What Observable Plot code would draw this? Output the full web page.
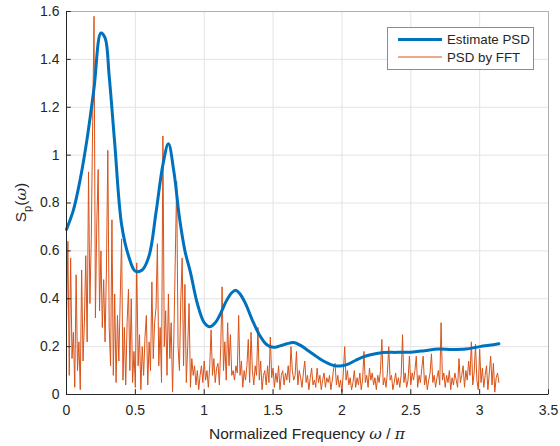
<!DOCTYPE html>
<html><head><meta charset="utf-8">
<script src="https://cdn.jsdelivr.net/npm/d3@7"></script>
<script src="https://cdn.jsdelivr.net/npm/@observablehq/plot@0.6"></script>
<style>body{margin:0;background:#fff}</style>
</head><body><div id="chart"></div>
<script>
const seriesNames = ["Estimate PSD", "PSD by FFT"];
const seriesColors = ["#0072BD", "#D95319"];
const xTicks = [0, 0.5, 1, 1.5, 2, 2.5, 3, 3.5];
const yTicks = [0, 0.2, 0.4, 0.6, 0.8, 1, 1.2, 1.4, 1.6];
const xTitle = "Normalized Frequency ";

const estX = [0,0.05,0.1,0.15,0.2,0.25,0.28,0.31,0.35,0.4,0.45,0.5,0.55,0.6,0.65,0.7,0.74,0.78,0.82,0.86,0.9,0.95,1.0,1.04,1.08,1.12,1.16,1.2,1.23,1.26,1.3,1.35,1.4,1.45,1.5,1.55,1.6,1.65,1.7,1.75,1.8,1.85,1.9,1.95,2.0,2.05,2.1,2.15,2.2,2.3,2.4,2.5,2.6,2.7,2.8,2.9,3.0,3.1,3.14];
const estY = [0.69,0.77,0.90,1.07,1.28,1.51,1.49,1.33,1.05,0.71,0.58,0.515,0.52,0.58,0.76,0.96,1.047,0.93,0.74,0.60,0.51,0.38,0.30,0.283,0.30,0.34,0.39,0.425,0.435,0.42,0.38,0.31,0.25,0.21,0.197,0.203,0.212,0.217,0.205,0.185,0.165,0.145,0.13,0.12,0.12,0.128,0.143,0.156,0.165,0.175,0.176,0.177,0.183,0.19,0.188,0.19,0.2,0.208,0.212];

const fftStep = 0.01;
const fftY = [
0.28,0.64,0.08,0.57,0.15,0.26,0.03,0.50,0.10,0.22,
0.02,0.52,0.14,0.30,0.58,0.22,0.93,0.38,0.65,1.14,
1.58,0.32,0.72,0.94,0.35,0.60,0.28,0.48,0.22,0.52,
1.02,0.28,0.12,0.73,0.08,0.42,0.05,0.33,0.14,0.40,
0.65,0.06,0.28,0.04,0.30,0.44,0.10,0.40,0.05,0.18,
0.03,0.55,0.12,0.25,0.02,0.20,0.08,0.24,0.33,0.04,
0.22,0.10,0.47,0.15,0.30,0.36,0.63,0.12,0.28,0.05,
1.08,0.20,0.35,0.08,0.42,0.15,0.30,0.01,0.25,0.57,
0.89,0.20,0.10,0.40,0.57,0.12,0.46,0.05,0.20,0.38,
0.03,0.15,0.08,0.12,0.04,0.10,0.02,0.08,0.12,0.05,
0.14,0.06,0.10,0.03,0.12,0.27,0.08,0.15,0.05,0.11,
0.13,0.04,0.20,0.45,0.10,0.22,0.06,0.30,0.12,0.25,
0.08,0.10,0.06,0.12,0.09,0.33,0.08,0.14,0.03,0.10,
0.06,0.12,0.23,0.05,0.26,0.10,0.04,0.12,0.08,0.28,
0.06,0.14,0.02,0.08,0.10,0.04,0.12,0.05,0.24,0.07,
0.11,0.03,0.09,0.05,0.12,0.02,0.08,0.10,0.04,0.09,
0.06,0.12,0.05,0.20,0.10,0.06,0.08,0.18,0.04,0.10,
0.07,0.03,0.09,0.14,0.05,0.08,0.02,0.07,0.11,0.04,
0.06,0.03,0.11,0.05,0.08,0.02,0.06,0.09,0.03,0.07,
0.05,0.08,0.02,0.06,0.11,0.13,0.04,0.08,0.03,0.06,
0.01,0.09,0.20,0.06,0.10,0.04,0.07,0.02,0.05,0.10,
0.03,0.07,0.04,0.09,0.02,0.06,0.18,0.05,0.08,0.03,
0.11,0.06,0.09,0.04,0.07,0.02,0.08,0.05,0.10,0.23,
0.04,0.07,0.03,0.09,0.20,0.06,0.08,0.02,0.05,0.09,
0.04,0.07,0.03,0.08,0.25,0.05,0.09,0.03,0.06,0.16,
0.04,0.09,0.06,0.10,0.16,0.03,0.08,0.05,0.11,0.16,
0.04,0.08,0.02,0.06,0.09,0.17,0.05,0.08,0.03,0.07,
0.10,0.04,0.30,0.06,0.09,0.03,0.08,0.05,0.10,0.02,
0.07,0.04,0.09,0.06,0.03,0.15,0.05,0.08,0.12,0.03,
0.10,0.06,0.14,0.08,0.22,0.04,0.09,0.21,0.06,0.02,
0.19,0.05,0.11,0.03,0.08,0.12,0.02,0.09,0.16,0.04,
0.13,0.01,0.07,0.09,0.05];

const est = estX.map((x, i) => ({x, y: estY[i]}));
const fft = fftY.map((y, i) => ({x: +(i * fftStep).toFixed(2), y}));

const W = 560, H = 446;
const ML = 66, MR = 12, MT = 11, MB = 52;
const font = "'Liberation Sans', Arial, Helvetica, sans-serif";
const fmt = d => String(d);

const chart = Plot.plot({
  width: W, height: H,
  marginLeft: ML, marginRight: MR, marginTop: MT, marginBottom: MB,
  style: {fontFamily: font, fontSize: "14px", color: "#262626", background: "#fff", overflow: "visible"},
  x: {domain: [0, 3.5], ticks: xTicks, tickFormat: fmt, label: null},
  y: {domain: [0, 1.6], ticks: yTicks, tickFormat: fmt, label: null},
  marks: [
    Plot.gridX(xTicks, {stroke: "#e3e3e3", strokeOpacity: 1}),
    Plot.gridY(yTicks, {stroke: "#e3e3e3", strokeOpacity: 1}),
    Plot.frame({stroke: "#b0b0b0"}),
    Plot.line(fft, {x: "x", y: "y", stroke: seriesColors[1], strokeWidth: 1}),
    Plot.line(est, {x: "x", y: "y", stroke: seriesColors[0], strokeWidth: 3, curve: "catmull-rom"}),
    Plot.ruleX(xTicks, {y1: 0, y2: 0.02, stroke: "#262626"}),
    Plot.ruleY(yTicks, {x1: 0, x2: 0.035, stroke: "#262626"}),
    Plot.ruleY([0], {stroke: "#262626"}),
    Plot.ruleX([0], {stroke: "#262626"}),
    Plot.axisX(xTicks, {tickSize: 0, tickPadding: 11, fill: "#262626", tickFormat: fmt, label: null}),
    Plot.axisY(yTicks, {tickSize: 0, tickPadding: 7, fill: "#262626", tickFormat: fmt, label: null})
  ]
});

const svg = d3.select(chart);
// x label
const xl = svg.append("text")
  .attr("x", ML + (W - ML - MR) / 2).attr("y", 439)
  .attr("text-anchor", "middle").attr("font-size", "15.5px")
  .attr("font-family", font).attr("fill", "#262626");
xl.append("tspan").text(xTitle);
xl.append("tspan").attr("font-style", "italic").attr("font-family", "'DejaVu Serif', serif").text("ω");
xl.append("tspan").text(" / ");
xl.append("tspan").attr("font-style", "italic").attr("font-family", "'DejaVu Serif', serif").text("π");
// y label
const yl = svg.append("text")
  .attr("transform", `translate(26,${MT + (H - MT - MB) / 2}) rotate(-90)`)
  .attr("text-anchor", "middle").attr("font-size", "15.5px")
  .attr("font-family", font).attr("fill", "#262626");
yl.append("tspan").text("S");
yl.append("tspan").attr("dy", 5).attr("font-size", "11px").text("p");
yl.append("tspan").attr("dy", -5).text("(");
yl.append("tspan").attr("font-style", "italic").attr("font-family", "'DejaVu Serif', serif").text("ω");
yl.append("tspan").text(")");

// legend
const lg = svg.append("g");
lg.append("rect").attr("x", 387.5).attr("y", 27.5).attr("width", 146).attr("height", 42)
  .attr("fill", "#fff").attr("stroke", "#8c8c8c").attr("stroke-width", 1);
seriesNames.forEach((name, i) => {
  const yy = 39.5 + i * 17.5;
  lg.append("line").attr("x1", 398).attr("x2", 442).attr("y1", yy).attr("y2", yy)
    .attr("stroke", seriesColors[i]).attr("stroke-width", i === 0 ? 3 : 1);
  lg.append("text").attr("x", 447).attr("y", yy + 4.6).attr("font-size", "13.3px")
    .attr("text-anchor", "start")
    .attr("font-family", font).attr("fill", "#262626").text(name);
});

document.getElementById("chart").appendChild(chart);
</script>
</body></html>
